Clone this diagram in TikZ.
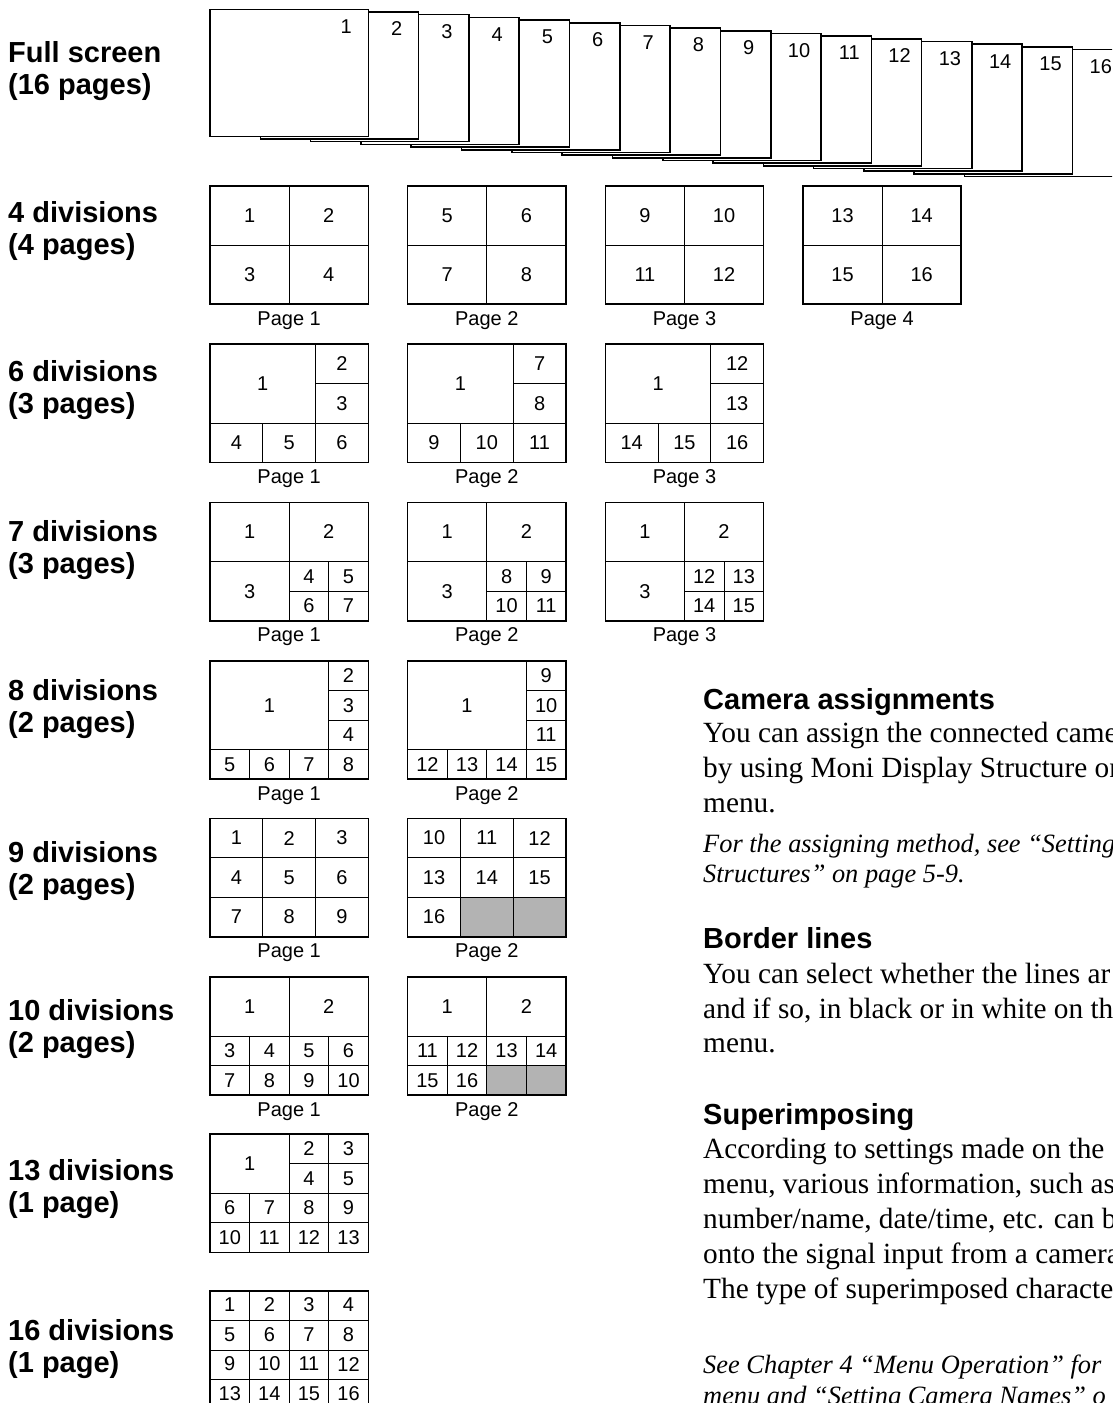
\documentclass[tikz,border=0pt]{standalone}
\usepackage{fontspec}
\setmainfont{Liberation Serif}
\setsansfont{Liberation Sans}

\newcommand{\numfont}{\sffamily\fontsize{20}{23}\selectfont}
\newcommand{\lblfont}{\sffamily\bfseries\fontsize{29}{32}\selectfont}
\newcommand{\bodyfont}{\rmfamily\fontsize{29.3}{35}\selectfont}
\newcommand{\notefont}{\rmfamily\itshape\fontsize{26.4}{31}\selectfont}
\definecolor{blankgray}{RGB}{179,179,179}

\tikzset{
  screen/.style={x=13.1917pt, y=-9.875pt},
  monframe/.style={draw, line width=1.6pt},
  divline/.style={line width=0.9pt},
  blank/.style={fill=blankgray},
  cellnum/.style={font=\numfont, inner sep=0pt},
  pagelbl/.style={font=\numfont, anchor=base, inner sep=0pt},
  rowlbl/.style={font=\lblfont, anchor=base west, inner sep=0pt},
  bodytxt/.style={font=\bodyfont, anchor=base west, inner sep=0pt},
  notetxt/.style={font=\notefont, anchor=base west, inner sep=0pt},
}

\begin{document}
\begin{tikzpicture}[x=1pt, y=-1pt]

    \clip (0,0) rectangle (1112,1403);

    % Full screen: 16 stacked pages, page 1 in front
    \foreach \k in {16,...,1}{
      \pgfmathsetmacro\fx{210+50.3*(\k-1)}
      \pgfmathsetmacro\fy{9.3+2.68*(\k-1)}
      \draw[monframe, fill=white] (\fx,\fy) rectangle ++(158.3,127);
      \node[cellnum] (full-\k) at (\fx+136.3,\fy+17) {\k};
    }

    % 4 divisions (top 185.7)
    \foreach \p in {0,...,3}{
      \pgfmathsetmacro\px{210+197.65*\p}
      \pgfmathtruncatemacro\a{4*\p+1}
      \begin{scope}[shift={(\px,185.7)}, screen]
        \draw[divline] (6,0) -- (6,12) (0,6) -- (12,6);
        \draw[monframe] (0,0) rectangle (12,12);
        \node[cellnum] (d4-\p-a) at (3,3) {\a};
        \node[cellnum] (d4-\p-b) at (9,3) {\the\numexpr\a+1\relax};
        \node[cellnum] (d4-\p-c) at (3,9) {\the\numexpr\a+2\relax};
        \node[cellnum] (d4-\p-d) at (9,9) {\the\numexpr\a+3\relax};
      \end{scope}
      \node[pagelbl] (d4-\p-pg) at (\px+79.15,185.7+139.5) {Page \the\numexpr\p+1\relax};
    }

    % 6 divisions (top 344)
    \foreach \p in {0,1,2}{
      \pgfmathsetmacro\px{210+197.65*\p}
      \pgfmathtruncatemacro\a{5*\p+2}
      \begin{scope}[shift={(\px,344)}, screen]
        \draw[divline] (8,0) -- (8,12) (8,4) -- (12,4) (0,8) -- (12,8) (4,8) -- (4,12);
        \draw[monframe] (0,0) rectangle (12,12);
        \node[cellnum] (d6-\p-m) at (4,4) {1};
        \node[cellnum] (d6-\p-a) at (10,2) {\a};
        \node[cellnum] (d6-\p-b) at (10,6) {\the\numexpr\a+1\relax};
        \node[cellnum] (d6-\p-c) at (2,10) {\the\numexpr\a+2\relax};
        \node[cellnum] (d6-\p-d) at (6,10) {\the\numexpr\a+3\relax};
        \node[cellnum] (d6-\p-e) at (10,10) {\the\numexpr\a+4\relax};
      \end{scope}
      \node[pagelbl] (d6-\p-pg) at (\px+79.15,344+139.5) {Page \the\numexpr\p+1\relax};
    }

    % 7 divisions (top 502.3)
    \foreach \p in {0,1,2}{
      \pgfmathsetmacro\px{210+197.65*\p}
      \pgfmathtruncatemacro\a{4*\p+4}
      \begin{scope}[shift={(\px,502.3)}, screen]
        \draw[divline] (6,0) -- (6,12) (0,6) -- (12,6) (9,6) -- (9,12) (6,9) -- (12,9);
        \draw[monframe] (0,0) rectangle (12,12);
        \node[cellnum] (d7-\p-m1) at (3,3) {1};
        \node[cellnum] (d7-\p-m2) at (9,3) {2};
        \node[cellnum] (d7-\p-m3) at (3,9) {3};
        \node[cellnum] (d7-\p-a) at (7.5,7.5) {\a};
        \node[cellnum] (d7-\p-b) at (10.5,7.5) {\the\numexpr\a+1\relax};
        \node[cellnum] (d7-\p-c) at (7.5,10.5) {\the\numexpr\a+2\relax};
        \node[cellnum] (d7-\p-d) at (10.5,10.5) {\the\numexpr\a+3\relax};
      \end{scope}
      \node[pagelbl] (d7-\p-pg) at (\px+79.15,502.3+139.5) {Page \the\numexpr\p+1\relax};
    }

    % 8 divisions (top 660.7)
    \foreach \p in {0,1}{
      \pgfmathsetmacro\px{210+197.65*\p}
      \pgfmathtruncatemacro\a{7*\p+2}
      \begin{scope}[shift={(\px,660.7)}, screen]
        \draw[divline] (9,0) -- (9,12) (9,3) -- (12,3) (9,6) -- (12,6)
                       (0,9) -- (12,9) (3,9) -- (3,12) (6,9) -- (6,12);
        \draw[monframe] (0,0) rectangle (12,12);
        \node[cellnum] (d8-\p-m) at (4.5,4.5) {1};
        \node[cellnum] (d8-\p-a) at (10.5,1.5) {\a};
        \node[cellnum] (d8-\p-b) at (10.5,4.5) {\the\numexpr\a+1\relax};
        \node[cellnum] (d8-\p-c) at (10.5,7.5) {\the\numexpr\a+2\relax};
        \node[cellnum] (d8-\p-d) at (1.5,10.5) {\the\numexpr\a+3\relax};
        \node[cellnum] (d8-\p-e) at (4.5,10.5) {\the\numexpr\a+4\relax};
        \node[cellnum] (d8-\p-f) at (7.5,10.5) {\the\numexpr\a+5\relax};
        \node[cellnum] (d8-\p-g) at (10.5,10.5) {\the\numexpr\a+6\relax};
      \end{scope}
      \node[pagelbl] (d8-\p-pg) at (\px+79.15,660.7+139.5) {Page \the\numexpr\p+1\relax};
    }

    % 9 divisions (top 818.3)
    \begin{scope}[shift={(210,818.3)}, screen]
      \draw[divline] (4,0) -- (4,12) (8,0) -- (8,12) (0,4) -- (12,4) (0,8) -- (12,8);
      \draw[monframe] (0,0) rectangle (12,12);
      \foreach \n [count=\i from 0] in {1,...,9}{
        \pgfmathtruncatemacro\cx{mod(\i,3)}
        \pgfmathtruncatemacro\cy{div(\i,3)}
        \node[cellnum] (d9-0-\n) at (4*\cx+2,4*\cy+2) {\n};
      }
    \end{scope}
    \node[pagelbl] (d9-0-pg) at (210+79.15,818.3+139.5) {Page 1};
    \begin{scope}[shift={(407.65,818.3)}, screen]
      \fill[blank] (4,8) rectangle (12,12);
      \draw[divline] (4,0) -- (4,12) (8,0) -- (8,12) (0,4) -- (12,4) (0,8) -- (12,8);
      \draw[monframe] (0,0) rectangle (12,12);
      \foreach \n [count=\i from 0] in {10,...,16}{
        \pgfmathtruncatemacro\cx{mod(\i,3)}
        \pgfmathtruncatemacro\cy{div(\i,3)}
        \node[cellnum] (d9-1-\n) at (4*\cx+2,4*\cy+2) {\n};
      }
    \end{scope}
    \node[pagelbl] (d9-1-pg) at (407.65+79.15,818.3+139.5) {Page 2};

    % 10 divisions (top 976.7)
    \begin{scope}[shift={(210,976.7)}, screen]
      \draw[divline] (6,0) -- (6,6) (0,6) -- (12,6) (0,9) -- (12,9)
                     (3,6) -- (3,12) (6,6) -- (6,12) (9,6) -- (9,12);
      \draw[monframe] (0,0) rectangle (12,12);
      \node[cellnum] (d10-0-m1) at (3,3) {1};
      \node[cellnum] (d10-0-m2) at (9,3) {2};
      \foreach \n [count=\i from 0] in {3,...,10}{
        \pgfmathtruncatemacro\cx{mod(\i,4)}
        \pgfmathtruncatemacro\cy{div(\i,4)}
        \node[cellnum] (d10-0-\n) at (3*\cx+1.5,3*\cy+7.5) {\n};
      }
    \end{scope}
    \node[pagelbl] (d10-0-pg) at (210+79.15,976.7+139.5) {Page 1};
    \begin{scope}[shift={(407.65,976.7)}, screen]
      \fill[blank] (6,9) rectangle (12,12);
      \draw[divline] (6,0) -- (6,6) (0,6) -- (12,6) (0,9) -- (12,9)
                     (3,6) -- (3,12) (6,6) -- (6,12) (9,6) -- (9,12);
      \draw[monframe] (0,0) rectangle (12,12);
      \node[cellnum] (d10-1-m1) at (3,3) {1};
      \node[cellnum] (d10-1-m2) at (9,3) {2};
      \foreach \n [count=\i from 0] in {11,...,16}{
        \pgfmathtruncatemacro\cx{mod(\i,4)}
        \pgfmathtruncatemacro\cy{div(\i,4)}
        \node[cellnum] (d10-1-\n) at (3*\cx+1.5,3*\cy+7.5) {\n};
      }
    \end{scope}
    \node[pagelbl] (d10-1-pg) at (407.65+79.15,976.7+139.5) {Page 2};

    % 13 divisions (top 1134)
    \begin{scope}[shift={(210,1134)}, screen]
      \draw[divline] (6,0) -- (6,12) (9,0) -- (9,12) (6,3) -- (12,3)
                     (0,6) -- (12,6) (0,9) -- (12,9) (3,6) -- (3,12);
      \draw[monframe] (0,0) rectangle (12,12);
      \node[cellnum] (d13-m) at (3,3) {1};
      \node[cellnum] (d13-2) at (7.5,1.5) {2};
      \node[cellnum] (d13-3) at (10.5,1.5) {3};
      \node[cellnum] (d13-4) at (7.5,4.5) {4};
      \node[cellnum] (d13-5) at (10.5,4.5) {5};
      \foreach \n [count=\i from 0] in {6,...,13}{
        \pgfmathtruncatemacro\cx{mod(\i,4)}
        \pgfmathtruncatemacro\cy{div(\i,4)}
        \node[cellnum] (d13-\n) at (3*\cx+1.5,3*\cy+7.5) {\n};
      }
    \end{scope}

    % 16 divisions (top 1291), bottom row runs off the page
    \begin{scope}[shift={(210,1291)}, screen]
      \draw[divline] (3,0) -- (3,12) (6,0) -- (6,12) (9,0) -- (9,12)
                     (0,3) -- (12,3) (0,6) -- (12,6) (0,9) -- (12,9);
      \draw[monframe] (0,0) rectangle (12,12);
      \foreach \n [count=\i from 0] in {1,...,16}{
        \pgfmathtruncatemacro\cx{mod(\i,4)}
        \pgfmathtruncatemacro\cy{div(\i,4)}
        \node[cellnum] (d16-\n) at (3*\cx+1.5,3*\cy+1.4) {\n};
      }
    \end{scope}

    % Row labels
    \node[rowlbl] (full-a) at (8,62) {Full screen};
    \node[rowlbl] (full-b) at (8,94) {(16 pages)};
    \node[rowlbl] (r4-a) at (8,222) {4 divisions};
    \node[rowlbl] (r4-b) at (8,254) {(4 pages)};
    \node[rowlbl] (r6-a) at (8,381) {6 divisions};
    \node[rowlbl] (r6-b) at (8,413) {(3 pages)};
    \node[rowlbl] (r7-a) at (8,541) {7 divisions};
    \node[rowlbl] (r7-b) at (8,573) {(3 pages)};
    \node[rowlbl] (r8-a) at (8,700) {8 divisions};
    \node[rowlbl] (r8-b) at (8,732) {(2 pages)};
    \node[rowlbl] (r9-a) at (8,862) {9 divisions};
    \node[rowlbl] (r9-b) at (8,894) {(2 pages)};
    \node[rowlbl] (r10-a) at (8,1020) {10 divisions};
    \node[rowlbl] (r10-b) at (8,1052) {(2 pages)};
    \node[rowlbl] (r13-a) at (8,1180) {13 divisions};
    \node[rowlbl] (r13-b) at (8,1212) {(1 page)};
    \node[rowlbl] (r16-a) at (8,1340) {16 divisions};
    \node[rowlbl] (r16-b) at (8,1372) {(1 page)};

    % Text column on the right
    \node[rowlbl]  (cam-h)  at (703,709)  {Camera assignments};
    \node[bodytxt] (cam-1)  at (703,742)  {You can assign the connected came};
    \node[bodytxt] (cam-2)  at (703,777)  {by using Moni Display Structure on};
    \node[bodytxt] (cam-3)  at (703,812)  {menu.};
    \node[notetxt] (cam-n1) at (703,852)  {For the assigning method, see “Setting};
    \node[notetxt] (cam-n2) at (703,882)  {Structures” on page 5-9.};

    \node[rowlbl]  (bor-h)  at (703,948)  {Border lines};
    \node[bodytxt] (bor-1)  at (703,983)  {You can select whether the lines ar};
    \node[bodytxt] (bor-2)  at (703,1018) {and if so, in black or in white on th};
    \node[bodytxt] (bor-3)  at (703,1052) {menu.};

    \node[rowlbl]  (sup-h)  at (703,1124) {Superimposing};
    \node[bodytxt] (sup-1)  at (703,1158) {According to settings made on the};
    \node[bodytxt] (sup-2)  at (703,1193) {menu, various information, such as};
    \node[bodytxt] (sup-3)  at (703,1228) {number/name, date/time, etc. can b};
    \node[bodytxt] (sup-4)  at (703,1263) {onto the signal input from a camera};
    \node[bodytxt] (sup-5)  at (703,1298) {The type of superimposed characte};
    \node[notetxt] (sup-n1) at (703,1373) {See Chapter 4 “Menu Operation” for};
    \node[notetxt] (sup-n2) at (703,1404) {menu and “Setting Camera Names” o};

\end{tikzpicture}
\end{document}
